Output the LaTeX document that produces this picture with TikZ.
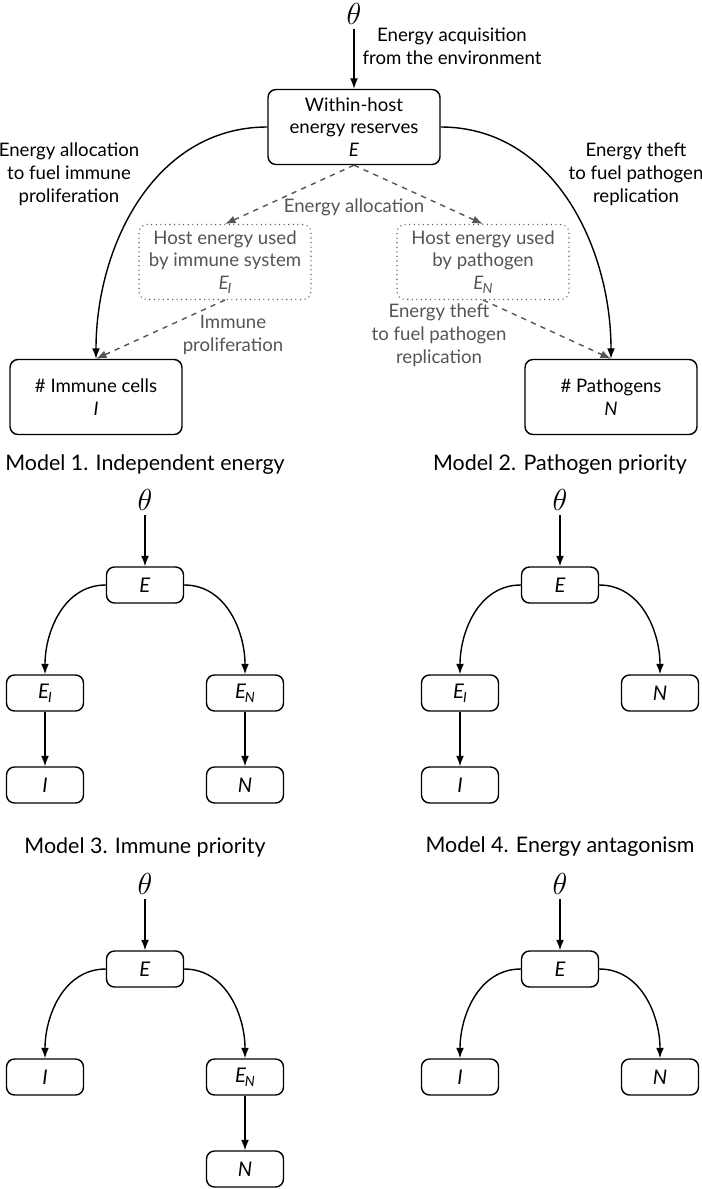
\documentclass[tikz,border=0pt]{standalone}
\usepackage{fontspec}
\setmainfont{Lato}
\usepackage{tikz}
\usetikzlibrary{arrows.meta,positioning}
\definecolor{dgray}{HTML}{555555}
\newcommand{\Esub}[1]{\textit{E}\kern-0.6pt\raisebox{-0.4ex}{\footnotesize\textit{#1}}}
\tikzset{
    -{Latex[length=6pt,width=4.5pt]},auto,
    bigbox/.style ={rectangle, rounded corners=0.16cm, draw, minimum width=3.44cm, minimum height=1.5cm, align=center, font=\fontsize{10.6}{13}\selectfont},
    usedbox/.style={bigbox, draw=dgray, text=dgray, dotted, semithick},
    smallbox/.style={rectangle, rounded corners=0.16cm, draw, minimum width=1.54cm, minimum height=0.72cm, font=\fontsize{11.5}{13}\selectfont},
    lbl/.style = {align=center, inner sep=1pt, font=\fontsize{10.6}{13}\selectfont},
    flow/.style={dashed, dgray},
    title/.style={font=\fontsize{12.2}{15}\selectfont},
    src/.style={font=\LARGE, inner sep=2pt}
}

\begin{document}
\begin{tikzpicture}[x=0.02cm,y=-0.02cm,thick]
    \useasboundingbox (0,0) rectangle (702,1189);

    % full model
    \node[src] (th) at (354,14) {$\theta$};
    \node[bigbox] (E) at (354,127) {Within-host\\energy reserves\\\textit{E}};
    \node[usedbox] (EI) at (225,262) {Host energy used\\by immune system\\\Esub{I}};
    \node[usedbox] (EN) at (483,262) {Host energy used\\by pathogen\\\Esub{N}};
    \node[bigbox] (I) at (96,397) {\# Immune cells\\\textit{I}};
    \node[bigbox] (N) at (611,397) {\# Pathogens\\\textit{N}};

    \node[lbl] (acq) at (452,46) {Energy acquisition\\from the environment};
    \node[lbl] (fuelI) at (69,174) {Energy allocation\\to fuel immune\\proliferation};
    \node[lbl] (fuelN) at (636,174) {Energy theft\\to fuel pathogen\\replication};
    \node[lbl, text=dgray] (alloc) at (354,207) {Energy allocation};
    \node[lbl, text=dgray] (prolif) at (233,335) {Immune\\proliferation};
    \node[lbl, text=dgray] (theft) at (439,335) {Energy theft\\to fuel pathogen\\replication};

    \path (th) edge (E);
    \draw (E.west) to[out=180,in=90] (I.north);
    \draw (E.east) to[out=0,in=90] (N.north);
    \draw[flow] (E.south) -- (EI.north);
    \draw[flow] (E.south) -- (EN.north);
    \draw[flow] (EI.south) -- (I.north);
    \draw[flow] (EN.south) -- (N.north);

    % model 1
    \node[title] (t1) at (145,465) {Model 1. Independent energy};
    \node[src] (th1) at (145,500) {$\theta$};
    \node[smallbox] (E1) at (145,585) {\textit{E}};
    \node[smallbox] (EI1) at (45,693) {\Esub{I}};
    \node[smallbox] (EN1) at (245,693) {\Esub{N}};
    \node[smallbox] (I1) at (45,785) {\textit{I}};
    \node[smallbox] (N1) at (245,785) {\textit{N}};
    \path (th1) edge (E1);
    \draw (E1.west) to[out=180,in=90] (EI1.north);
    \draw (E1.east) to[out=0,in=90] (EN1.north);
    \path (EI1) edge (I1);
    \path (EN1) edge (N1);

    % model 2
    \node[title] (t2) at (560,465) {Model 2. Pathogen priority};
    \node[src] (th2) at (560,500) {$\theta$};
    \node[smallbox] (E2) at (560,585) {\textit{E}};
    \node[smallbox] (EI2) at (460,693) {\Esub{I}};
    \node[smallbox] (N2) at (660,693) {\textit{N}};
    \node[smallbox] (I2) at (460,785) {\textit{I}};
    \path (th2) edge (E2);
    \draw (E2.west) to[out=180,in=90] (EI2.north);
    \draw (E2.east) to[out=0,in=90] (N2.north);
    \path (EI2) edge (I2);

    % model 3
    \node[title] (t3) at (145,847) {Model 3. Immune priority};
    \node[src] (th3) at (145,884) {$\theta$};
    \node[smallbox] (E3) at (145,969) {\textit{E}};
    \node[smallbox] (I3) at (45,1077) {\textit{I}};
    \node[smallbox] (EN3) at (245,1077) {\Esub{N}};
    \node[smallbox] (N3) at (245,1169) {\textit{N}};
    \path (th3) edge (E3);
    \draw (E3.west) to[out=180,in=90] (I3.north);
    \draw (E3.east) to[out=0,in=90] (EN3.north);
    \path (EN3) edge (N3);

    % model 4
    \node[title] (t4) at (560,847) {Model 4. Energy antagonism};
    \node[src] (th4) at (560,884) {$\theta$};
    \node[smallbox] (E4) at (560,969) {\textit{E}};
    \node[smallbox] (I4) at (460,1077) {\textit{I}};
    \node[smallbox] (N4) at (660,1077) {\textit{N}};
    \path (th4) edge (E4);
    \draw (E4.west) to[out=180,in=90] (I4.north);
    \draw (E4.east) to[out=0,in=90] (N4.north);
\end{tikzpicture}
\end{document}
